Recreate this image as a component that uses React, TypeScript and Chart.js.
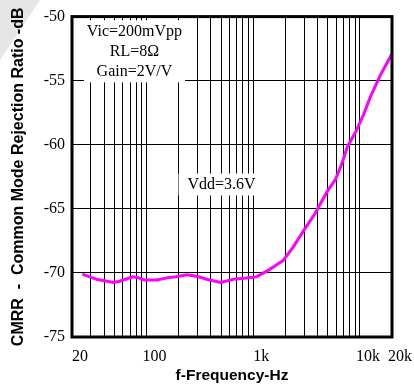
import React, { useEffect, useRef } from 'react';
import { Chart, registerables } from 'chart.js';

Chart.register(...registerables);

// Test conditions printed inside the plot
const conditionLines = ['Vic=200mVpp', 'RL=8Ω', 'Gain=2V/V'];
const conditionAnchor = { freq: 77, db: -51.15 };
const supplyLabel = 'Vdd=3.6V';
const supplyAnchor = { freq: 505, db: -63.1 };

// Frequency sweep (Hz) and measured CMRR (dB)
const freqHz = [
  25, 34, 49, 56, 74, 82, 95, 126, 163, 189, 239, 309, 367, 495, 653, 862,
  1070, 1380, 1900, 2360, 2920, 3770, 4980, 5910, 6720, 7640, 9260, 10760,
  12490, 15470, 20000,
];
const cmrrDb = [
  -70.1, -70.5, -70.75, -70.65, -70.3, -70.35, -70.55, -70.55, -70.35, -70.3,
  -70.15, -70.3, -70.5, -70.75, -70.5, -70.4, -70.3, -69.8, -69.05, -68.0,
  -66.8, -65.4, -63.6, -62.7, -61.55, -60.15, -58.9, -57.7, -56.3, -54.6, -52.9,
];

// Axis ranges and tick labels
const xMin = 20;
const xMax = 20000;
const xLabelValues = [20, 100, 1000, 10000, 20000];
const xLabelTexts = ['20', '100', '1k', '10k', '20k'];
const yMin = -75;
const yMax = -50;
const yStep = 5;

// 1-2-3...9 grid lines in every decade inside the range
const xGridValues: number[] = [];
for (let decade = 10; decade <= 10000; decade *= 10) {
  for (let m = 1; m <= 9; m++) {
    const v = decade * m;
    if (v >= xMin && v <= xMax) xGridValues.push(v);
  }
}
if (!xGridValues.includes(xMax)) xGridValues.push(xMax);

const serif = "'Liberation Serif', 'Times New Roman', serif";
const sans = "'Liberation Sans', Arial, sans-serif";

const cornerShade = {
  id: 'cornerShade',
  beforeDraw(chart: any) {
    const { ctx } = chart;
    ctx.save();
    ctx.fillStyle = '#e6e6e6';
    ctx.beginPath();
    ctx.moveTo(0, 0);
    ctx.lineTo(40, 0);
    ctx.lineTo(0, 60);
    ctx.closePath();
    ctx.fill();
    ctx.restore();
  },
};

const notes = {
  id: 'notes',
  beforeDatasetsDraw(chart: any) {
    const { ctx, scales } = chart;
    const x = scales.x;
    const y = scales.y;
    ctx.save();
    ctx.font = `16px ${serif}`;
    ctx.textAlign = 'center';
    ctx.textBaseline = 'middle';

    // condition block, three centred lines on a white card
    const cx = x.getPixelForValue(conditionAnchor.freq);
    const cy = y.getPixelForValue(conditionAnchor.db);
    const lineGap = 20;
    const widest = Math.max(...conditionLines.map((t) => ctx.measureText(t).width));
    ctx.fillStyle = '#fff';
    ctx.fillRect(cx - widest / 2 - 3, cy - 11, widest + 6, lineGap * (conditionLines.length - 1) + 22);
    ctx.fillStyle = '#000';
    conditionLines.forEach((t, i) => ctx.fillText(t, cx, cy + i * lineGap));

    // supply voltage label
    const sx = x.getPixelForValue(supplyAnchor.freq);
    const sy = y.getPixelForValue(supplyAnchor.db);
    const sw = ctx.measureText(supplyLabel).width;
    ctx.fillStyle = '#fff';
    ctx.fillRect(sx - sw / 2 - 9, sy - 11, sw + 18, 22);
    ctx.fillStyle = '#000';
    ctx.fillText(supplyLabel, sx, sy);
    ctx.restore();
  },
};

const frame = {
  id: 'frame',
  afterDraw(chart: any) {
    const { ctx, chartArea } = chart;
    ctx.save();
    ctx.strokeStyle = '#000';
    ctx.lineWidth = 3;
    ctx.strokeRect(chartArea.left, chartArea.top, chartArea.right - chartArea.left, chartArea.bottom - chartArea.top);
    ctx.restore();
  },
};

export default function App() {
  const canvasRef = useRef<HTMLCanvasElement | null>(null);

  useEffect(() => {
    const canvas = canvasRef.current;
    if (!canvas) return;
    const chart = new Chart(canvas, {
      type: 'line',
      data: {
        datasets: [
          {
            data: freqHz.map((f, i) => ({ x: f, y: cmrrDb[i] })),
            borderColor: '#ff00ff',
            borderWidth: 3,
            pointRadius: 0,
            tension: 0,
            fill: false,
          },
        ],
      },
      options: {
        animation: false,
        responsive: false,
        devicePixelRatio: 1,
        layout: { padding: { left: 0, right: 19, top: 12, bottom: 0 } },
        plugins: { legend: { display: false }, tooltip: { enabled: false } },
        scales: {
          x: {
            type: 'logarithmic',
            min: xMin,
            max: xMax,
            afterBuildTicks: (scale: any) => {
              scale.ticks = xGridValues.map((v) => ({ value: v }));
            },
            afterFit: (scale: any) => {
              scale.height = 53;
            },
            grid: { color: '#000', lineWidth: 1, drawTicks: false },
            border: { display: false },
            ticks: {
              autoSkip: false,
              maxRotation: 0,
              padding: 10,
              labelOffset: 8,
              color: '#000',
              font: { family: serif, size: 16 },
              callback: (v: any) => {
                const i = xLabelValues.indexOf(Number(v));
                return i >= 0 ? xLabelTexts[i] : '';
              },
            },
            title: {
              display: true,
              text: 'f-Frequency-Hz',
              color: '#000',
              font: { family: sans, size: 15.5, weight: 'bold' },
              padding: { top: 0, bottom: 5 },
            },
          },
          y: {
            min: yMin,
            max: yMax,
            afterFit: (scale: any) => {
              scale.width = 72;
            },
            grid: { color: '#000', lineWidth: 1, drawTicks: false },
            border: { display: false },
            ticks: {
              stepSize: yStep,
              padding: 7,
              color: '#000',
              font: { family: serif, size: 16 },
            },
            title: {
              display: true,
              text: 'CMRR  -  Common Mode Rejection Ratio -dB',
              color: '#000',
              font: { family: sans, size: 16, weight: 'bold' },
              padding: { top: 9, bottom: 0 },
            },
          },
        },
      },
      plugins: [cornerShade, notes, frame],
    } as any);
    return () => chart.destroy();
  }, []);

  return (
    <div style={{ position: 'absolute', left: 0, top: 0, width: 414, height: 390, background: '#fff' }}>
      <canvas ref={canvasRef} width={414} height={390} style={{ display: 'block' }} />
    </div>
  );
}
